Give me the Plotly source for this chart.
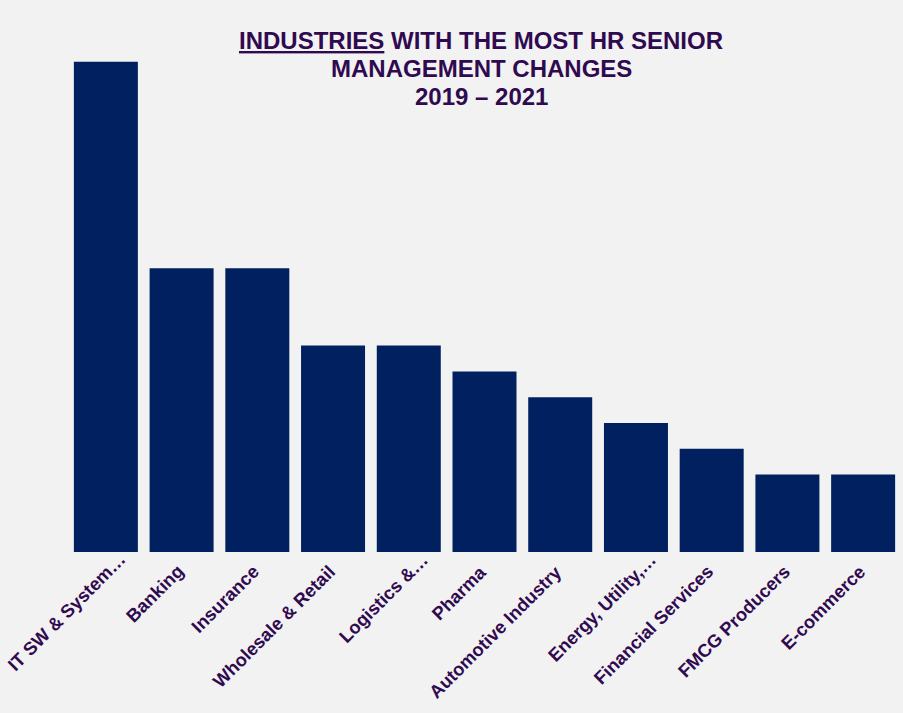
import plotly.graph_objects as go

categories = ["IT SW & System…", "Banking", "Insurance", "Wholesale & Retail", "Logistics &…",
              "Pharma", "Automotive Industry", "Energy, Utility,…", "Financial Services",
              "FMCG Producers", "E-commerce"]
values = [19, 11, 11, 8, 8, 7, 6, 5, 4, 3, 3]
title_lines = ["<span style='text-decoration:underline'>INDUSTRIES</span> WITH THE MOST HR SENIOR",
               "MANAGEMENT CHANGES", "2019 – 2021"]

text_color = "#300A50"
bar_color = "#002060"
FONT = "Liberation Sans, Arial"

fig = go.Figure(go.Bar(x=categories, y=values, marker=dict(color=bar_color, line=dict(width=0))))

W, H = 903, 713
ml, mr, mt, mb = 68, 2, 36, 161
ph = H - mt - mb
pw = W - ml - mr

annotations = []
for txt, ypx in zip(title_lines, [40, 68, 96]):
    annotations.append(dict(text=txt, xref="paper", yref="paper",
                            x=(481 - ml) / pw, y=(H - mb - ypx) / ph,
                            xanchor="center", yanchor="middle", showarrow=False,
                            font=dict(family=FONT, size=24, color=text_color, weight="bold")))

# category labels drawn as rotated annotations anchored at each category
for cat in categories:
    trunc = cat.endswith("…")
    annotations.append(dict(text=cat, xref="x", yref="paper", x=cat, y=0,
                            xanchor="right", yanchor="top", textangle=-45, showarrow=False,
                            borderpad=0, borderwidth=0,
                            xshift=6 + (18 if trunc else 0), yshift=-9 + (12 if trunc else 0),
                            font=dict(family=FONT, size=18.3, color=text_color, weight="bold")))

fig.update_layout(
    width=W, height=H,
    margin=dict(l=ml, r=mr, t=mt, b=mb, autoexpand=False),
    paper_bgcolor="#F2F2F2", plot_bgcolor="#F2F2F2",
    bargap=0.155,
    showlegend=False,
    annotations=annotations,
    font=dict(family=FONT, color=text_color),
)
fig.update_xaxes(range=[-0.5, len(categories) - 0.5], showticklabels=False, automargin=False,
                 showline=False, ticks="", showgrid=False)
fig.update_yaxes(range=[0, 20], visible=False, showgrid=False, automargin=False)

fig.write_html("out.html", config={"displayModeBar": False},
               post_script="document.body.style.margin='0';document.body.style.padding='0';")
